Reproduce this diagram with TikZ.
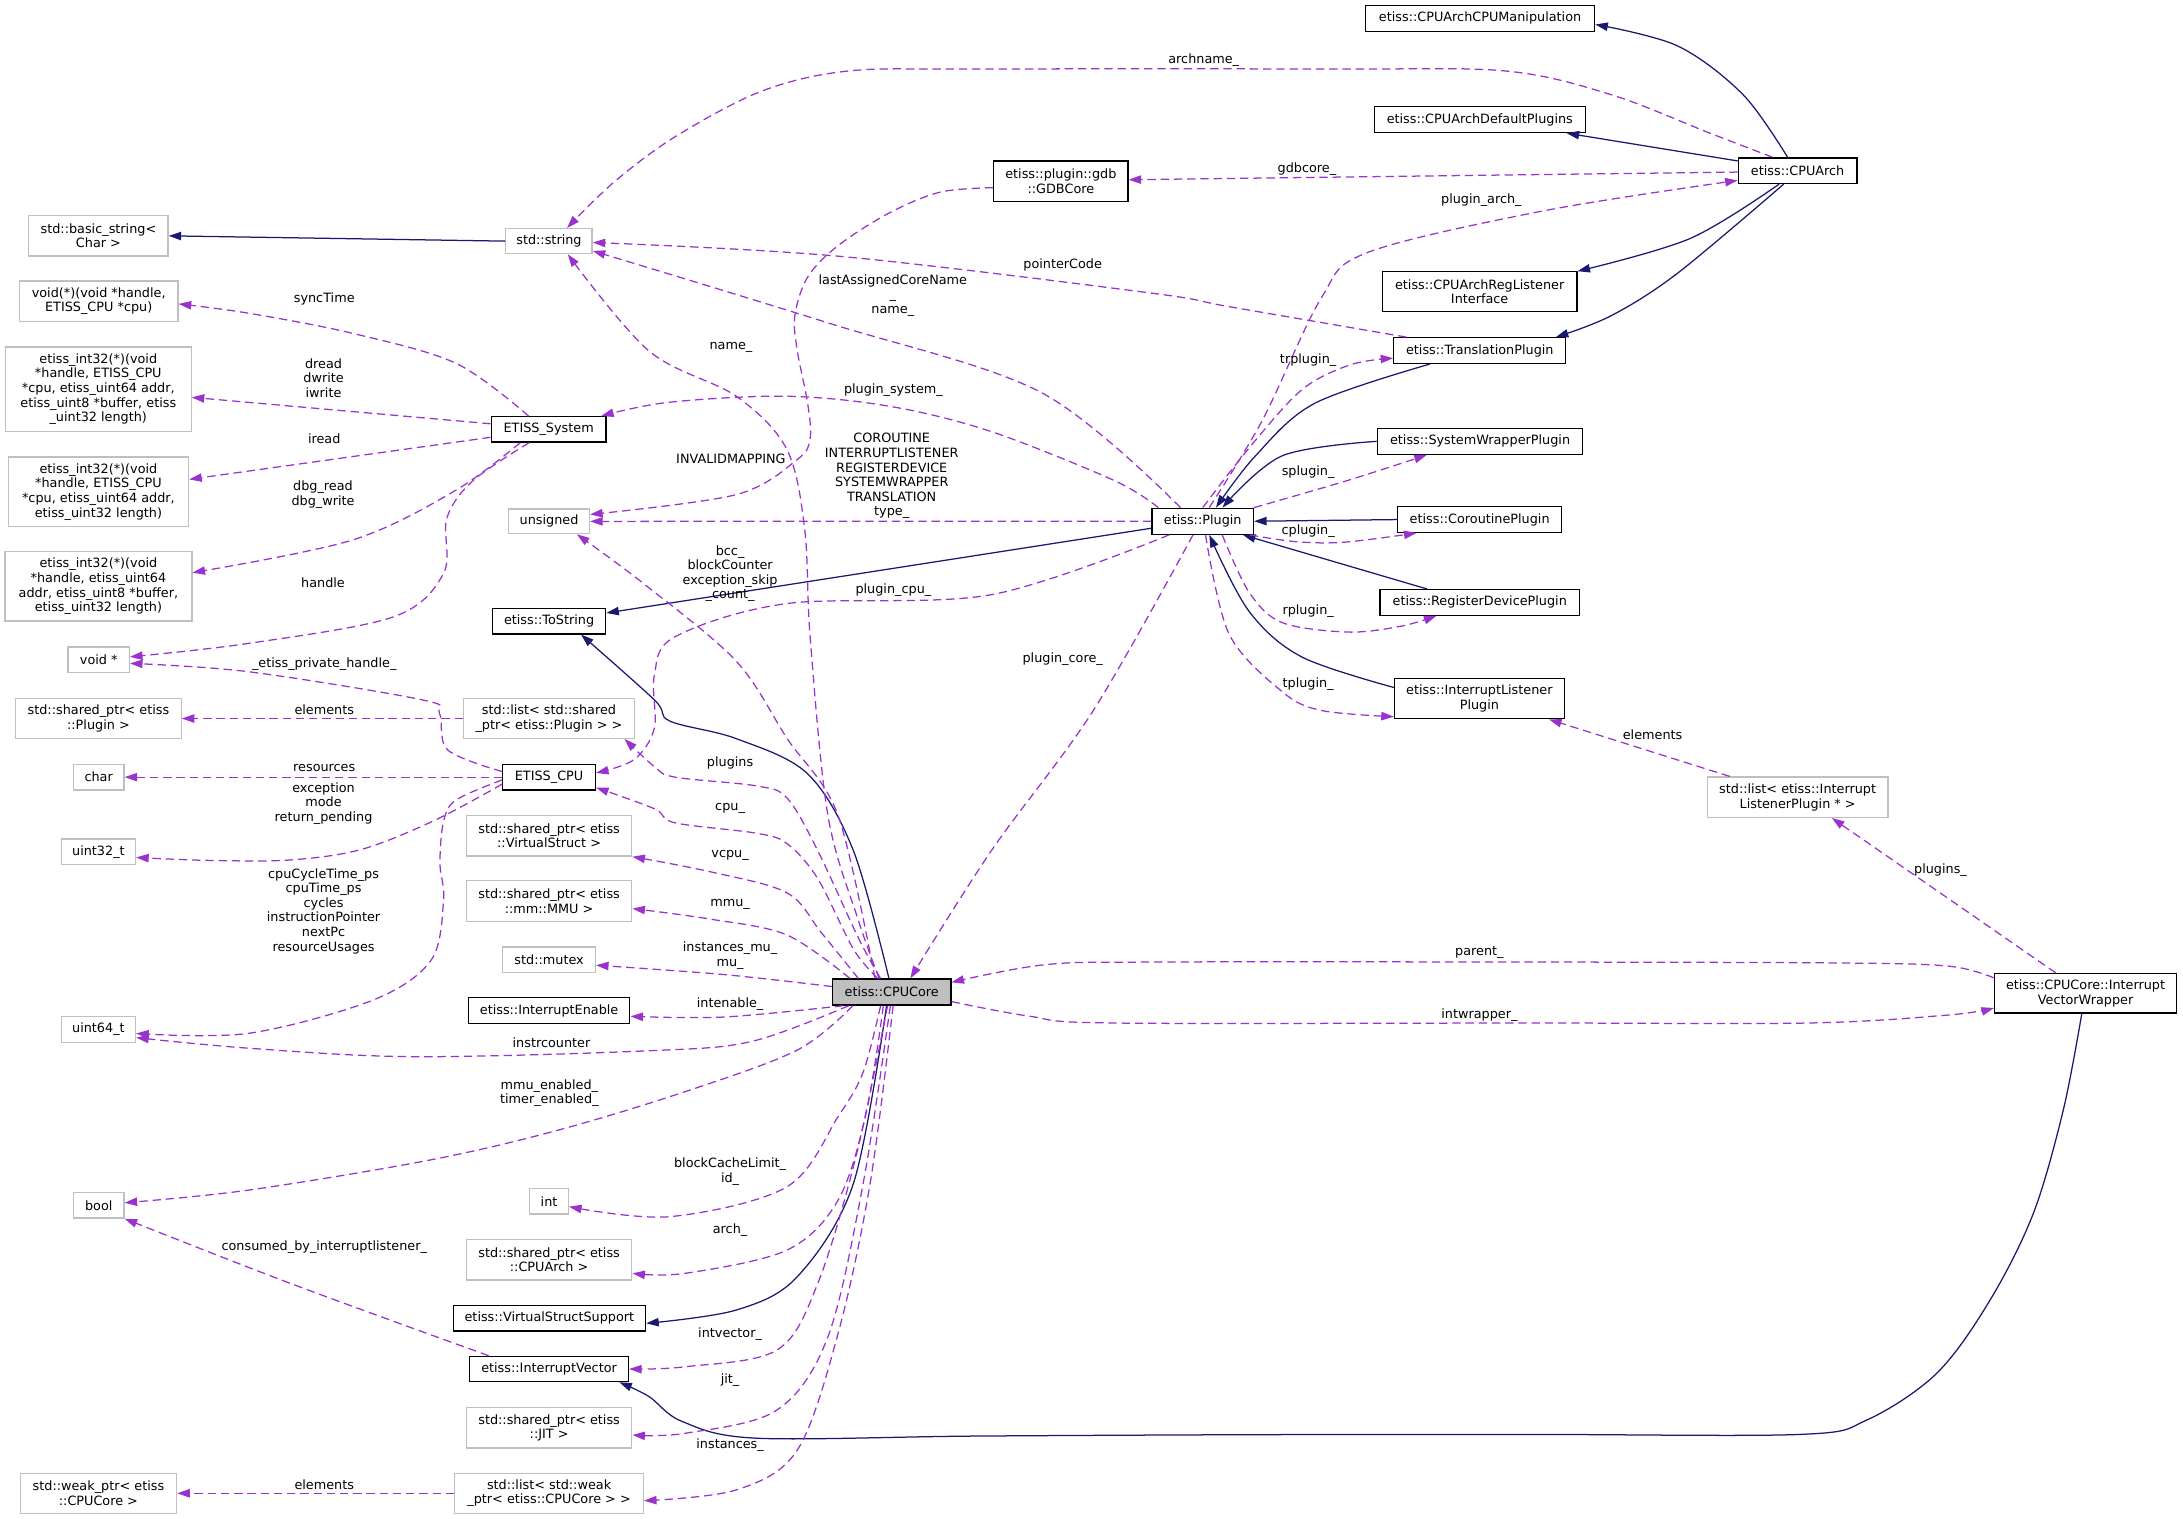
\documentclass[tikz,border=0pt]{standalone}
\usepackage{fontspec}
\setmainfont{DejaVu Sans}
\usetikzlibrary{arrows.meta}
\definecolor{depc}{HTML}{9A32CD}
\definecolor{inhc}{HTML}{191970}
\definecolor{gb}{HTML}{BFBFBF}
\definecolor{corefill}{HTML}{BFBFBF}
\newcommand\dfont{\fontsize{9.2pt}{10.5pt}\selectfont}
\tikzset{
 box/.style={rectangle, inner sep=0pt, align=center, font=\dfont, line width=0.9pt},
 cls/.style={box, draw=black, fill=white},
 ext/.style={box, draw=gb, fill=white},
 lbl/.style={inner sep=0pt, align=center, font=\dfont},
 depe/.style={draw=depc, line width=0.9pt, dash pattern=on 6pt off 3.5pt, -{Triangle[length=9pt,width=6pt]}},
 inhe/.style={draw=inhc, line width=0.9pt, -{Triangle[length=9pt,width=6pt]}},
 sm/.style={smooth, tension=0.55},
}
\begin{document}
\begin{tikzpicture}[x=1pt,y=-1pt]
\useasboundingbox (0,0) rectangle (1568,1091);
% ---------- left column ----------
\node[ext, minimum width=100pt, minimum height=29pt] (basic) at (70.7,169.4) {std::basic\_string<\\Char >};
\node[ext, minimum width=114pt, minimum height=29pt] (voidfn) at (70.9,216.3) {void(*)(void *handle,\\ETISS\_CPU *cpu)};
\node[ext, minimum width=133.4pt, minimum height=60.6pt] (int32a) at (70.6,279.5) {etiss\_int32(*)(void\\ *handle, ETISS\_CPU\\ *cpu, etiss\_uint64 addr,\\ etiss\_uint8 *buffer, etiss\\\_uint32 length)};
\node[ext, minimum width=129.5pt, minimum height=50pt] (int32b) at (70.7,353.3) {etiss\_int32(*)(void\\ *handle, ETISS\_CPU\\ *cpu, etiss\_uint64 addr,\\ etiss\_uint32 length)};
\node[ext, minimum width=134.3pt, minimum height=49.8pt] (int32c) at (70.7,421.2) {etiss\_int32(*)(void\\ *handle, etiss\_uint64\\ addr, etiss\_uint8 *buffer,\\ etiss\_uint32 length)};
\node[ext, minimum width=44pt, minimum height=18.2pt] (voidp) at (70.9,473.8) {void *};
\node[ext, minimum width=118.8pt, minimum height=28.5pt] (spplugin) at (70.7,516.1) {std::shared\_ptr< etiss\\::Plugin >};
\node[ext, minimum width=36.3pt, minimum height=18.5pt] (char) at (70.9,558.2) {char};
\node[ext, minimum width=53.3pt, minimum height=18.5pt] (uint32) at (70.7,611.9) {uint32\_t};
\node[ext, minimum width=53.3pt, minimum height=18.5pt] (uint64) at (70.7,739.3) {uint64\_t};
\node[ext, minimum width=36.3pt, minimum height=18.2pt] (bool) at (70.9,865.8) {bool};
\node[ext, minimum width=112.3pt, minimum height=28.7pt] (weakptr) at (70.7,1072.6) {std::weak\_ptr< etiss\\::CPUCore >};
% ---------- middle column ----------
\node[ext, minimum width=62pt, minimum height=18pt] (string) at (394.3,173.2) {std::string};
\node[cls, minimum width=82.5pt, minimum height=18.2pt] (ES) at (394.1,308.4) {ETISS\_System};
\node[ext, minimum width=58pt, minimum height=17.7pt] (unsigned) at (394.4,374.5) {unsigned};
\node[cls, minimum width=81.3pt, minimum height=18.2pt] (ToS) at (394.4,446.3) {etiss::ToString};
\node[ext, minimum width=122.7pt, minimum height=28.5pt] (listsp) at (394.3,516.1) {std::list< std::shared\\\_ptr< etiss::Plugin > >};
\node[cls, minimum width=66.5pt, minimum height=18.5pt] (ECPU) at (394.4,558.2) {ETISS\_CPU};
\node[ext, minimum width=118.8pt, minimum height=29pt] (spvs) at (394.4,600.4) {std::shared\_ptr< etiss\\::VirtualStruct >};
\node[ext, minimum width=118.8pt, minimum height=29pt] (spmmu) at (394.4,647.2) {std::shared\_ptr< etiss\\::mm::MMU >};
\node[ext, minimum width=66.5pt, minimum height=18.5pt] (mutex) at (394.4,689.5) {std::mutex};
\node[cls, minimum width=115.9pt, minimum height=18.5pt] (IE) at (394.4,725.8) {etiss::InterruptEnable};
\node[ext, minimum width=27.7pt, minimum height=18.2pt] (int) at (394.4,862.9) {int};
\node[ext, minimum width=118.8pt, minimum height=29pt] (sparch) at (394.4,904.9) {std::shared\_ptr< etiss\\::CPUArch >};
\node[cls, minimum width=138.2pt, minimum height=18.2pt] (VSS) at (394.6,946.9) {etiss::VirtualStructSupport};
\node[cls, minimum width=114pt, minimum height=18.2pt] (IV) at (394.4,983.3) {etiss::InterruptVector};
\node[ext, minimum width=118.8pt, minimum height=29pt] (spjit) at (394.4,1025.5) {std::shared\_ptr< etiss\\::JIT >};
\node[ext, minimum width=135.5pt, minimum height=28.7pt] (listwp) at (394.4,1072.6) {std::list< std::weak\\\_ptr< etiss::CPUCore > >};
% ---------- centre ----------
\node[cls, minimum width=96.4pt, minimum height=29pt] (GDB) at (762,130.1) {etiss::plugin::gdb\\::GDBCore};
\node[box, draw=black, fill=corefill, minimum width=85pt, minimum height=18.7pt] (CPUCore) at (640.5,712.6) {etiss::CPUCore};
\node[cls, minimum width=72.8pt, minimum height=18.7pt] (Plugin) at (863.9,374.4) {etiss::Plugin};
% ---------- right ----------
\node[cls, minimum width=164.6pt, minimum height=18.6pt] (Manip) at (1063.1,13.1) {etiss::CPUArchCPUManipulation};
\node[cls, minimum width=151.8pt, minimum height=18.6pt] (DefP) at (1062.9,85.9) {etiss::CPUArchDefaultPlugins};
\node[cls, minimum width=139.7pt, minimum height=28.7pt] (RegL) at (1062.8,209.6) {etiss::CPUArchRegListener\\Interface};
\node[cls, minimum width=123.5pt, minimum height=18.4pt] (TP) at (1062.9,251.8) {etiss::TranslationPlugin};
\node[cls, minimum width=147.6pt, minimum height=18.7pt] (SWP) at (1063.1,317) {etiss::SystemWrapperPlugin};
\node[cls, minimum width=117.8pt, minimum height=18.4pt] (Cor) at (1062.8,373.2) {etiss::CoroutinePlugin};
\node[cls, minimum width=143.3pt, minimum height=18.4pt] (RDP) at (1062.9,432.7) {etiss::RegisterDevicePlugin};
\node[cls, minimum width=122pt, minimum height=29pt] (ILP) at (1062.6,501.8) {etiss::InterruptListener\\Plugin};
\node[cls, minimum width=85.2pt, minimum height=18.4pt] (CPUArch) at (1291.2,122.6) {etiss::CPUArch};
\node[ext, minimum width=129.6pt, minimum height=29pt] (listilp) at (1291.2,572.6) {std::list< etiss::Interrupt\\ListenerPlugin * >};
\node[cls, minimum width=130.7pt, minimum height=28.3pt] (Wrapper) at (1498,713.4) {etiss::CPUCore::Interrupt\\VectorWrapper};

% ---------- inheritance edges ----------
\draw[inhe] (string.west) -- (basic.east);
\draw[inhe] plot[sm] coordinates {([xshift=-7.2pt]CPUArch.north) (1252,68) (1205,33) ([yshift=-4.5pt]Manip.east)};
\draw[inhe] ([yshift=7pt]CPUArch.west) -- ([xshift=-14pt]DefP.south east);
\draw[inhe] plot[sm] coordinates {([xshift=-13.3pt]CPUArch.south) (1214,171.3) (RegL.north east)};
\draw[inhe] plot[sm] coordinates {([xshift=-10pt]CPUArch.south) (1204.6,196.5) (1157.2,226.8) ([xshift=-7.6pt]TP.north east)};
\draw[inhe] plot[sm] coordinates {([xshift=-35.7pt]TP.south) (944.3,289.7) (901.7,327.5) ([xshift=9.5pt]Plugin.north)};
\draw[inhe] plot[sm] coordinates {(SWP.west) (920.7,327.5) ([xshift=14.2pt]Plugin.north)};
\draw[inhe] (Cor.west) -- (Plugin.east);
\draw[inhe] ([xshift=-37.9pt]RDP.north) -- ([xshift=-8pt]Plugin.south east);
\draw[inhe] plot[sm] coordinates {([yshift=8pt]ILP.west) (934.9,471.8) (897,438.9) ([xshift=4.7pt]Plugin.south)};
\draw[inhe] ([yshift=-5pt]Plugin.west) -- ([yshift=6pt]ToS.east);
\draw[inhe] plot[sm] coordinates {([xshift=-2pt]CPUCore.north) (613,611.1) (580,555.7) (528.7,530.5) (481.1,517.9) (470.1,502.8) ([xshift=23pt]ToS.south)};
\draw[inhe] plot[sm] coordinates {([xshift=-3.7pt]CPUCore.south) (613,850) (572.7,917) (528.7,941) ([yshift=-3.6pt]VSS.east)};
\draw[inhe] plot[sm] coordinates {([xshift=-2.7pt]Wrapper.south) (1482,797.3) (1460.5,871.5) (1429.4,933.8) (1391.1,986.4) (1340.8,1020) (1292.9,1030.3) (1100,1030.3) (900,1030.5) (700,1031.5) (543,1033) (490,1021) (466,1003) ([xshift=-7pt]IV.south east)};

% ---------- dependency edges ----------
\draw[depe] plot[sm] coordinates {([xshift=-18pt]CPUArch.north) (1228.3,95.7) (1157.2,68) (1081.5,51) (960,49.6) (700,49.6) (609.4,51) (547,65.5) (484.8,98.3) (440.8,131) ([xshift=13pt]string.north)};
\draw[depe] ([yshift=-1pt]CPUArch.west) -- ([yshift=1pt]GDB.east);
\draw[depe] plot[sm] coordinates {([xshift=4.7pt]Plugin.north) (906.5,302.3) (949,214.1) (982.2,181.4) (1110,151.2) ([yshift=-7pt]CPUArch.west)};
\draw[depe] plot[sm] coordinates {([xshift=9.5pt]TP.north west) (883.5,220.4) (826,210.4) (602,184) ([yshift=-1pt]string.east)};
\draw[depe] plot[sm] coordinates {([xshift=-16pt]Plugin.north) (748,282) (595,232) ([yshift=-7pt]string.east)};
\draw[depe] plot[sm] coordinates {([xshift=-9pt]CPUCore.north) (616.7,661.5) (594.7,586) (582,459) (578,380) (565,322.5) (528.8,284.6) (466,252) ([xshift=13.5pt]string.south)};
\draw[depe] plot[sm] coordinates {([xshift=5pt]Plugin.north west) (800,345) (712,310) (640,292) (565,284.6) (480,289) ([xshift=-4pt]ES.north east)};
\draw[depe] (Plugin.west) -- (unsigned.east);
\draw[depe] plot[sm] coordinates {([yshift=-4.7pt]GDB.west) (675.3,138) (638.7,153) (602,176.4) (580.1,199) (570.9,226.8) (572.7,252) (580.1,289.7) (581.9,314.9) (572.7,330) (528.7,355.3) ([yshift=5pt]unsigned.east)};
\draw[depe] plot[sm] coordinates {([xshift=-12pt]CPUCore.north) (602,585.9) (565.4,530.5) (528.7,474.8) (462.8,419.6) ([xshift=20pt]unsigned.south)};
\draw[depe] plot[sm] coordinates {([xshift=12.7pt]Plugin.south west) (711.8,427.2) (565.3,433.5) (484.8,457.4) (470,485) (470,523) (455.4,545.6) ([yshift=3pt]ECPU.east)};
\draw[depe] plot[sm] coordinates {([xshift=-7pt]Plugin.south) (785.3,510.3) (712,611.1) ([xshift=-29.6pt]CPUCore.north east)};
\draw[depe] plot[sm] coordinates {(Plugin.north) (897,322) (935,280) (970,262) ([yshift=-5.5pt]TP.west)};
\draw[depe] plot[sm] coordinates {(Plugin.north east) (968,345.1) ([xshift=-38.3pt]SWP.south)};
\draw[depe] plot[sm] coordinates {([xshift=-3pt]Plugin.south east) (930,389) (965,389.5) ([xshift=14pt]Cor.south west)};
\draw[depe] plot[sm] coordinates {([xshift=14pt]Plugin.south) (897,425.1) (920.7,447.1) (968,454) (1005.8,449.9) ([xshift=41pt]RDP.south west)};
\draw[depe] plot[sm] coordinates {([xshift=2pt]Plugin.south) (882.8,455.4) (920.7,496.6) (949,510.3) ([yshift=2pt]ILP.south west)};
\draw[depe] ([xshift=-48.8pt]listilp.north) -- ([xshift=-11.4pt]ILP.south east);
\draw[depe] ([xshift=-21.4pt]Wrapper.north) -- ([xshift=24.6pt]listilp.south);
\draw[depe] plot[sm] coordinates {([yshift=11pt]Wrapper.west) (1400,694) (1322.9,691.7) (1100,691) (830,691) (750,693) ([yshift=7pt]CPUCore.east)};
\draw[depe] plot[sm] coordinates {([yshift=-6.8pt]CPUCore.east) (740,730) (800,734.8) (1100,734.8) (1299,734.8) (1400,729) ([yshift=-10.6pt]Wrapper.west)};
\draw[depe] plot[sm] coordinates {([xshift=-14.4pt]ES.north) (327.6,261) (253.1,239.4) (178.7,225) ([yshift=-2pt]voidfn.east)};
\draw[depe] ([yshift=4pt]ES.west) -- ([yshift=-5.9pt]int32a.east);
\draw[depe] ([yshift=-5.7pt]ES.west) -- ([yshift=9pt]int32b.east);
\draw[depe] plot[sm] coordinates {([xshift=-20.4pt]ES.south) (327.6,352) (253.1,387.9) ([yshift=9.9pt]int32c.east)};
\draw[depe] plot[sm] coordinates {([xshift=-14pt]ES.south) (340,345) (321,372) (318.6,411.8) (282.9,443) (178.7,462.1) ([yshift=2pt]voidp.east)};
\draw[depe] plot[sm] coordinates {([yshift=4pt]ECPU.west) (321.6,538.7) (315.7,512.4) (303.8,502.8) (178.7,482.5) ([yshift=-2.7pt]voidp.east)};
\draw[depe] (listsp.west) -- (spplugin.east);
\draw[depe] (ECPU.west) -- (char.east);
\draw[depe] plot[sm] coordinates {([yshift=-5pt]ECPU.west) (312.7,589) (260,610) (208.5,617.7) (150,618) ([yshift=-4pt]uint32.east)};
\draw[depe] plot[sm] coordinates {([yshift=-2pt]ECPU.west) (327.6,574.6) (318.6,590) (316,620) (318.6,646.5) (309.7,689.6) (268,718.3) (178.7,742.2) ([yshift=-3pt]uint64.east)};
\draw[depe] plot[sm] coordinates {([xshift=12pt]CPUCore.south west) (540,748) (466.9,754.7) (297.8,759) (180,753) ([yshift=-6pt]uint64.east)};
\draw[depe] plot[sm] coordinates {([xshift=-8pt]CPUCore.north) (616.7,674) (587.4,611.1) (565.4,573.3) (543.4,564.5) (484.8,558.2) (470,550.6) ([xshift=-7.5pt]listsp.south east)};
\draw[depe] plot[sm] coordinates {([xshift=-10pt]CPUCore.north) (613,681.7) (587.4,631.2) (565.4,606) (543.4,598.5) (484.8,591) (470,580.9) ([yshift=-7.5pt]ECPU.east)};
\draw[depe] plot[sm] coordinates {([xshift=-24pt]CPUCore.north) (590,670) (565.3,641.3) (510.4,626.2) (spvs.south east)};
\draw[depe] plot[sm] coordinates {([xshift=-30pt]CPUCore.north) (565.3,671.6) (510.4,660.2) ([yshift=-5.4pt]spmmu.east)};
\draw[depe] plot[sm] coordinates {([yshift=4pt]CPUCore.west) (520,700) ([yshift=-3.8pt]mutex.east)};
\draw[depe] plot[sm] coordinates {([xshift=8pt]CPUCore.south west) (520,730.5) ([yshift=-4.2pt]IE.east)};
\draw[depe] plot[sm] coordinates {([xshift=15pt]CPUCore.south west) (572.7,754.2) (492.1,784.1) (400,812) (308.9,833.2) (178.7,854.8) ([yshift=1.9pt]bool.east)};
\draw[depe] plot[sm] coordinates {([xshift=-8pt]CPUCore.south) (620,770) (602,802) (565.3,852.4) (481.1,873.9) ([yshift=-3.8pt]int.east)};
\draw[depe] plot[sm] coordinates {([xshift=-6pt]CPUCore.south) (622,800) (602,862) (565.3,897.9) (492.1,914.6) ([yshift=-9.7pt]sparch.east)};
\draw[depe] plot[sm] coordinates {([xshift=-3pt]CPUCore.south) (615,830) (587.4,921.8) (558.1,969.7) (492.1,981.7) (IV.east)};
\draw[depe] plot[sm] coordinates {([xshift=-1pt]CPUCore.south) (620,850) (594.7,960.1) (558.1,1012.8) (492.1,1029.5) ([yshift=-5.2pt]spjit.east)};
\draw[depe] plot[sm] coordinates {([xshift=1pt]CPUCore.south) (625,850) (602,957.7) (572.7,1041.5) (528.7,1070.2) ([yshift=-5.3pt]listwp.east)};
\draw[depe] (listwp.west) -- (weakptr.east);
\draw[depe] plot[sm] coordinates {([xshift=14pt]IV.north west) (208.5,921.8) (bool.south east)};

% ---------- labels ----------
\node[lbl] (l1) at (864.6,43.3) {archname\_};
\node[lbl] (l2) at (938.7,121.2) {gdbcore\_};
\node[lbl] (l3) at (1064,143.6) {plugin\_arch\_};
\node[lbl] (l4) at (763.3,190.2) {pointerCode};
\node[lbl] (l5) at (641.3,212.3) {lastAssignedCoreName\\\_\\name\_};
\node[lbl] (l6) at (525,249.9) {name\_};
\node[lbl] (l7) at (232.9,215) {syncTime};
\node[lbl] (l8) at (232.4,271.6) {dread\\dwrite\\iwrite};
\node[lbl] (l9) at (939.6,259) {trplugin\_};
\node[lbl] (l10) at (641.7,280.4) {plugin\_system\_};
\node[lbl] (l11) at (232.9,314.8) {iread};
\node[lbl] (l12) at (525,329.3) {INVALIDMAPPING};
\node[lbl] (l13) at (640.5,342) {COROUTINE\\INTERRUPTLISTENER\\REGISTERDEVICE\\SYSTEMWRAPPER\\TRANSLATION\\type\_};
\node[lbl] (l14) at (939.6,339.4) {splugin\_};
\node[lbl] (l15) at (232,355.4) {dbg\_read\\dbg\_write};
\node[lbl] (l16) at (939.6,381.7) {cplugin\_};
\node[lbl] (l17) at (524.4,412) {bcc\_\\blockCounter\\exception\_skip\\\_count\_};
\node[lbl] (l18) at (232,418.3) {handle};
\node[lbl] (l19) at (641.7,424.1) {plugin\_cpu\_};
\node[lbl] (l20) at (939.6,438.9) {rplugin\_};
\node[lbl] (l21) at (763.3,473.8) {plugin\_core\_};
\node[lbl] (l22) at (232.9,477) {\_etiss\_private\_handle\_};
\node[lbl] (l23) at (939.6,491.1) {tplugin\_};
\node[lbl] (l24) at (232.9,510) {elements};
\node[lbl] (l25) at (1187,527.7) {elements};
\node[lbl] (l26) at (524.4,548) {plugins};
\node[lbl] (l27) at (232.9,551.9) {resources};
\node[lbl] (l28) at (232.4,577) {exception\\mode\\return\_pending};
\node[lbl] (l29) at (524.4,580.9) {cpu\_};
\node[lbl] (l30) at (524.4,614.3) {vcpu\_};
\node[lbl] (l31) at (1393.8,625.3) {plugins\_};
\node[lbl] (l32) at (232.4,654.4) {cpuCycleTime\_ps\\cpuTime\_ps\\cycles\\instructionPointer\\nextPc\\resourceUsages};
\node[lbl] (l33) at (524.4,649.6) {mmu\_};
\node[lbl] (l34) at (1062.6,684.3) {parent\_};
\node[lbl] (l35) at (524.4,686.5) {instances\_mu\_\\mu\_};
\node[lbl] (l36) at (524.4,721.2) {intenable\_};
\node[lbl] (l37) at (1062.6,729.4) {intwrapper\_};
\node[lbl] (l38) at (396.1,748.7) {instrcounter};
\node[lbl] (l39) at (394.6,785.3) {mmu\_enabled\_\\timer\_enabled\_};
\node[lbl] (l40) at (524.4,841.5) {blockCacheLimit\_\\id\_};
\node[lbl] (l41) at (524.4,883.7) {arch\_};
\node[lbl] (l42) at (232.9,895.9) {consumed\_by\_interruptlistener\_};
\node[lbl] (l43) at (524.4,958.4) {intvector\_};
\node[lbl] (l44) at (524.4,991.2) {jit\_};
\node[lbl] (l45) at (524.4,1037.9) {instances\_};
\node[lbl] (l46) at (232.9,1066.2) {elements};
\end{tikzpicture}
\end{document}
